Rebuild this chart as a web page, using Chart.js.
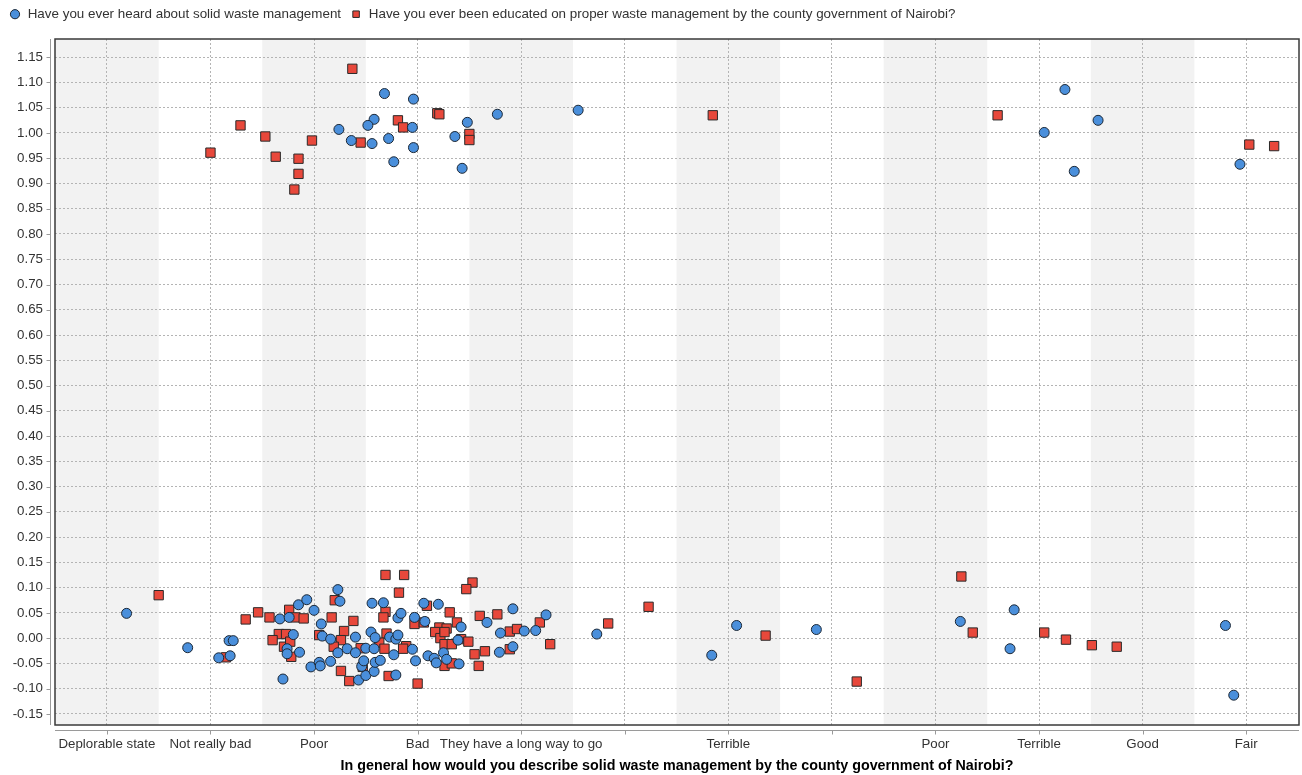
<!DOCTYPE html>
<html>
<head>
<meta charset="utf-8">
<script src="https://cdn.jsdelivr.net/npm/chart.js@4/dist/chart.umd.min.js"></script>
<style>
  html, body { margin: 0; padding: 0; background: #fff; overflow: hidden; }
  #wrap { width: 1302px; height: 775px; }
</style>
</head>
<body>
<div id="wrap"><canvas id="chart" width="1302" height="775"></canvas></div>
<script>
// Answer categories along the x axis (two slots carry no label)
const categories = ['Deplorable state', 'Not really bad', 'Poor', 'Bad', 'They have a long way to go', '',
                    'Terrible', '', 'Poor', 'Terrible', 'Good', 'Fair'];
const xTitle = 'In general how would you describe solid waste management by the county government of Nairobi?';
const heardLabel = 'Have you ever heard about solid waste management';
const educatedLabel = 'Have you ever been educated on proper waste management by the county government of Nairobi?';
const yTickStep = 0.05;

// "Heard about solid waste management" answers (jittered category position, jittered 0/1 answer)
const heardX = [
  2.68, 2.96, 2.58, 2.52, 2.24, 2.95, 2.36, 2.56, 2.72, 2.96, 2.77, 3.48, 3.36, 3.77, 3.43, 4.55,
  9.25, 9.05, 9.57, 9.34, 10.94,
  0.19, 0.78, 1.08, 1.18, 1.22, 1.19, 1.70, 1.67, 1.76, 1.85, 1.93, 2.00, 1.80, 1.74, 1.74, 1.86,
  1.97, 2.05, 2.06, 2.07, 2.08, 2.16, 2.23, 2.25, 2.16, 2.23, 2.32, 2.40, 2.40, 2.43, 2.50, 2.58,
  2.46, 2.48, 2.59, 2.64, 2.50, 2.58, 2.55, 2.59, 2.73, 2.79, 2.81, 2.56, 2.67, 2.81, 2.84, 2.77,
  2.95, 2.98, 2.79, 3.06, 3.20, 2.97, 3.07, 3.42, 3.10, 3.16, 3.18, 3.25, 3.28, 3.40, 3.39, 3.67,
  3.80, 3.92, 4.03, 4.14, 4.24, 3.79, 3.92, 4.73, 5.84, 6.08, 6.85, 8.24, 8.76, 8.72, 10.80, 10.88
];
const heardY = [
  1.078, 1.067, 1.027, 1.015, 1.007, 1.011, 0.985, 0.979, 0.989, 0.971, 0.943, 1.021, 0.993, 1.037, 0.930, 1.045,
  1.086, 1.001, 1.025, 0.924, 0.938,
  0.049, -0.019, -0.039, -0.005, -0.005, -0.035, -0.081, 0.038, 0.041, 0.066, 0.076, 0.055, 0.007, -0.021, -0.031, -0.028,
  -0.057, -0.048, -0.055, 0.028, 0.004, -0.002, 0.096, 0.073, -0.046, -0.029, -0.021, 0.002, -0.029, -0.083, -0.074, -0.066,
  -0.056, -0.045, -0.048, -0.044, -0.020, -0.021, 0.012, 0.001, 0.002, -0.002, 0.006, 0.069, 0.070, 0.040, 0.049, -0.033,
  -0.022, -0.045, -0.073, 0.069, 0.067, 0.041, 0.033, 0.022, -0.035, -0.040, -0.049, -0.029, -0.042, -0.051, -0.004, 0.031,
  0.010, 0.058, 0.014, 0.015, 0.046, -0.028, -0.017, 0.008, -0.034, 0.025, 0.017, 0.033, 0.056, -0.021, 0.025, -0.113
];

// "Educated by the county government" answers
const educatedX = [
  1.00, 1.29, 1.53, 1.63, 1.85, 1.85, 1.81, 1.98, 2.37, 2.45, 2.81, 2.86, 3.19, 3.21, 3.50, 3.50,
  5.85, 8.60, 11.03, 11.27,
  0.50, 1.15, 1.34, 1.46, 1.57, 1.76, 1.82, 1.90, 1.66, 1.73, 1.60, 1.71, 1.77, 1.78, 2.17, 2.38,
  2.20, 2.05, 2.29, 2.26, 2.19, 2.26, 2.34, 2.69, 2.87, 2.82, 3.53, 3.47, 2.69, 2.67, 3.09, 3.31,
  3.60, 3.77, 3.38, 2.97, 3.06, 3.21, 3.28, 3.17, 3.22, 3.26, 3.42, 3.49, 3.26, 3.33, 2.70, 2.63,
  2.68, 2.89, 2.86, 2.45, 3.89, 3.96, 4.18, 4.28, 3.89, 3.55, 3.65, 3.59, 3.26, 3.33, 2.72, 3.00,
  2.47, 4.84, 5.23, 6.36, 7.24, 8.25, 8.36, 9.05, 9.26, 9.51, 9.75
];
const educatedY = [
  0.961, 1.015, 0.993, 0.953, 0.949, 0.919, 0.888, 0.985, 1.127, 0.981, 1.025, 1.011, 1.039, 1.037, 0.998, 0.986,
  1.035, 1.035, 0.977, 0.974,
  0.085, -0.038, 0.037, 0.051, 0.041, 0.056, 0.041, 0.039, 0.008, 0.008, -0.004, -0.017, -0.007, -0.037, 0.041, 0.034,
  0.075, 0.006, 0.014, -0.004, -0.017, -0.065, -0.085, 0.125, 0.125, 0.090, 0.110, 0.097, 0.052, 0.041, 0.064, 0.051,
  0.044, 0.047, 0.031, 0.028, 0.031, 0.021, 0.019, 0.012, 0.000, 0.012, -0.002, -0.007, -0.012, -0.012, 0.009, -0.009,
  -0.021, -0.016, -0.021, -0.020, 0.013, 0.018, 0.031, -0.012, -0.022, -0.032, -0.026, -0.055, -0.055, -0.050, -0.075, -0.090,
  -0.057, 0.029, 0.062, 0.005, -0.086, 0.122, 0.011, 0.011, -0.003, -0.014, -0.017
];

const FONT = '"Liberation Sans", Arial, sans-serif';
const toPoints = (xs, ys) => xs.map((x, i) => ({ x, y: ys[i] }));

// Alternating light bands behind every other category
const stripes = {
  id: 'stripes',
  beforeDraw(chart) {
    const { ctx, chartArea: a, scales: { x } } = chart;
    ctx.save();
    ctx.fillStyle = '#f2f2f2';
    for (let i = 0; i < categories.length; i += 2) {
      const l = x.getPixelForValue(i - 0.5), r = x.getPixelForValue(i + 0.5);
      ctx.fillRect(l, a.top, r - l, a.bottom - a.top);
    }
    ctx.restore();
  }
};

// Plot frame plus the detached axis lines with their tick marks
const frame = {
  id: 'frame',
  afterDraw(chart) {
    const { ctx, chartArea: a, scales: { x, y } } = chart;
    ctx.save();
    ctx.strokeStyle = '#9a9a9a';
    ctx.lineWidth = 1;
    ctx.beginPath();
    const ay = Math.round(a.bottom) + 5.5;
    ctx.moveTo(a.left, ay); ctx.lineTo(a.right, ay);
    x.ticks.forEach(t => {
      const px = Math.round(x.getPixelForValue(t.value)) + 0.5;
      ctx.moveTo(px, ay); ctx.lineTo(px, ay + 4);
    });
    const ax = Math.round(a.left) - 4.5;
    ctx.moveTo(ax, a.top); ctx.lineTo(ax, a.bottom);
    y.ticks.forEach(t => {
      const py = Math.round(y.getPixelForValue(t.value)) + 0.5;
      ctx.moveTo(ax - 4, py); ctx.lineTo(ax, py);
    });
    ctx.stroke();
    ctx.strokeStyle = '#3a3a3a';
    ctx.lineWidth = 1.5;
    ctx.strokeRect(a.left, a.top, a.right - a.left, a.bottom - a.top);
    ctx.restore();
  }
};

// Leave room between the legend row and the plot
const legendSpace = {
  id: 'legendSpace',
  beforeLayout(chart) {
    const lg = chart.legend;
    if (lg && !lg.__spaced) {
      const fit = lg.fit;
      lg.fit = function () { fit.call(this); this.height = 40.5; };
      lg.__spaced = true;
    }
  }
};

new Chart(document.getElementById('chart'), {
  type: 'scatter',
  data: {
    datasets: [
      {
        label: heardLabel,
        data: toPoints(heardX, heardY),
        pointStyle: 'circle',
        pointRadius: 5,
        backgroundColor: '#4a8fdb',
        borderColor: '#1c2836',
        borderWidth: 1
      },
      {
        label: educatedLabel,
        data: toPoints(educatedX, educatedY),
        pointStyle: 'rect',
        pointRadius: 6.6,
        backgroundColor: '#e8483b',
        borderColor: '#2a2a2a',
        borderWidth: 1
      }
    ]
  },
  options: {
    responsive: false,
    animation: false,
    events: [],
    layout: { autoPadding: false, padding: { top: -1.5, right: 3, bottom: 0, left: 0 } },
    plugins: {
      tooltip: { enabled: false },
      legend: {
        position: 'top',
        align: 'start',
        labels: {
          usePointStyle: true,
          boxWidth: 12,
          boxHeight: 6.5,
          padding: 9,
          color: '#333',
          font: { family: FONT, size: 13.4 }
        }
      }
    },
    scales: {
      x: {
        type: 'linear',
        min: -0.501,
        max: 11.51,
        afterFit(s) { s.height = 50; },
        ticks: {
          stepSize: 1,
          includeBounds: false,
          autoSkip: false,
          minRotation: 0,
          maxRotation: 0,
          padding: 11,
          color: '#333',
          font: { family: FONT, size: 13.3 },
          callback: v => categories[v] ?? ''
        },
        grid: { color: '#b4b4b4', lineWidth: 1, drawTicks: false },
        border: { display: false, dash: [2, 2] },
        title: {
          display: true,
          text: xTitle,
          color: '#000',
          font: { family: FONT, size: 14.3, weight: 'bold' },
          padding: { top: 0, bottom: 0.5 }
        }
      },
      y: {
        type: 'linear',
        min: -0.172,
        max: 1.186,
        afterFit(s) { s.width = 55; },
        ticks: {
          stepSize: yTickStep,
          includeBounds: false,
          autoSkip: false,
          padding: 12,
          color: '#333',
          font: { family: FONT, size: 13.3 },
          callback: v => v.toFixed(2)
        },
        grid: { color: '#b4b4b4', lineWidth: 1, drawTicks: false },
        border: { display: false, dash: [2, 2] }
      }
    }
  },
  plugins: [stripes, frame, legendSpace]
});
</script>
</body>
</html>
